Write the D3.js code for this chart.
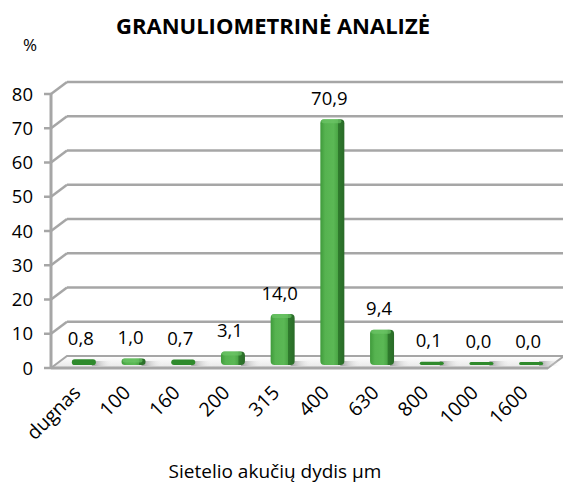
<!DOCTYPE html>
<html><head><meta charset="utf-8">
<script src="https://cdn.jsdelivr.net/npm/d3@7"></script>
<style>body{margin:0;background:#fff}svg{display:block;font-family:"Open Sans",sans-serif}</style>
</head><body><svg id="c" width="563" height="486"></svg>
<script>
const categories = ["dugnas","100","160","200","315","400","630","800","1000","1600"];
const values = [0.8,1.0,0.7,3.1,14.0,70.9,9.4,0.1,0.0,0.0];
const yTicks = [0,10,20,30,40,50,60,70,80];
const title = "GRANULIOMETRINĖ ANALIZĖ";
const xTitle = "Sietelio akučių dydis µm";
const yTitle = "%";

const svg = d3.select("#c");
const W=563,H=486;
const x0=51,x1=548,dx=16,dy=12;
const y = d3.scaleLinear().domain([0,80]).range([368,94]);
const x = d3.scaleBand().domain(categories).range([x0,x1]);

const defs = svg.append("defs");
const g1 = defs.append("linearGradient").attr("id","barg").attr("x1","0").attr("x2","1").attr("y1","0").attr("y2","0");
[["0%","#3f9a3b"],["20%","#56b350"],["55%","#5bb855"],["72%","#4ba646"],["74%","#2f7a2d"],["100%","#2a6b28"]].forEach(s=>g1.append("stop").attr("offset",s[0]).attr("stop-color",s[1]));
const g2 = defs.append("linearGradient").attr("id","floorg").attr("x1","0").attr("x2","0").attr("y1","0").attr("y2","1");
[["0%","#ffffff"],["100%","#e6e6e6"]].forEach(s=>g2.append("stop").attr("offset",s[0]).attr("stop-color",s[1]));
const g3 = defs.append("linearGradient").attr("id","shadg").attr("x1","0").attr("x2","1");
[["0%","#8a8a8a"],["100%","#ffffff"]].forEach(s=>g3.append("stop").attr("offset",s[0]).attr("stop-color",s[1]).attr("stop-opacity",s[0]=="0%"?0.8:0));

// back wall gridlines + diagonals
const grid = svg.append("g");
yTicks.forEach(t=>{
  if(t===0) return;
  grid.append("line").attr("x1",x0+dx).attr("x2",W).attr("y1",y(t)-dy).attr("y2",y(t)-dy)
    .attr("stroke","#a6a6a6").attr("stroke-width",2.5);
  grid.append("line").attr("x1",x0).attr("x2",x0+dx).attr("y1",y(t)).attr("y2",y(t)-dy)
    .attr("stroke","#a6a6a6").attr("stroke-width",2.5);
});
// floor
svg.append("polygon")
  .attr("points",[[x0,y(0)],[x1,y(0)],[x1+dx,y(0)-dy],[x0+dx,y(0)-dy]].map(p=>p.join(",")).join(" "))
  .attr("fill","url(#floorg)").attr("stroke","#a6a6a6").attr("stroke-width",2);
svg.append("line").attr("x1",x0).attr("x2",x1).attr("y1",y(0)).attr("y2",y(0)).attr("stroke","#a6a6a6").attr("stroke-width",3);

// axis
svg.append("line").attr("x1",x0).attr("x2",x0).attr("y1",y(80)).attr("y2",y(0)).attr("stroke","#a6a6a6").attr("stroke-width",3);
const yl = svg.append("g");
yTicks.forEach(t=>{
  yl.append("line").attr("x1",x0-7).attr("x2",x0).attr("y1",y(t)).attr("y2",y(t)).attr("stroke","#a6a6a6").attr("stroke-width",2.5);
  yl.append("text").attr("x",33).attr("y",y(t)).attr("dy","0.36em").attr("text-anchor","end")
    .attr("font-size",18.5).attr("fill","#000").text(t);
});

// bars
const bw=24, base=y(0)-3;
const bars = svg.append("g");
categories.forEach((c,i)=>{
  const cx = x(c)+x.bandwidth()/2+8;
  const top = y(values[i])-6;
  bars.append("rect").attr("x",cx+8).attr("y",base-4).attr("width",22).attr("height",5)
    .attr("fill","url(#shadg)");
  const h = Math.max(base-top,3);
  bars.append("rect").attr("x",cx-bw/2).attr("y",base-h).attr("width",bw).attr("height",h)
    .attr("rx",Math.min(4,h/2)).attr("fill", h<6?"#2f8a2c":"url(#barg)");
  if(h>=6){
    bars.append("rect").attr("x",cx-bw/2+1).attr("y",top).attr("width",bw-4).attr("height",4)
      .attr("rx",2).attr("fill","#6cc466").attr("opacity",0.7);
  }
});

// value labels
svg.append("g").selectAll("text").data(values).join("text")
  .attr("x",(d,i)=>x(categories[i])+x.bandwidth()/2+5)
  .attr("y",d=>y(d)-6-21).attr("dy","0.36em").attr("text-anchor","middle")
  .attr("font-size",18.5).text(d=>d.toFixed(1).replace(".",","));

// category labels
svg.append("g").selectAll("text").data(categories).join("text")
  .attr("transform",c=>`translate(${x(c)+x.bandwidth()/2+1},389) rotate(-45)`)
  .attr("text-anchor","end").attr("dy","0.36em").attr("font-size",19.5).text(c=>c);

// titles
svg.append("text").attr("x",273).attr("y",34).attr("text-anchor","middle")
  .attr("font-size",22).attr("font-weight","bold").text(title);
svg.append("text").attr("x",30).attr("y",51).attr("text-anchor","middle").attr("font-size",17).text(yTitle);
svg.append("text").attr("x",275).attr("y",478).attr("text-anchor","middle").attr("font-size",19).text(xTitle);
</script></body></html>
